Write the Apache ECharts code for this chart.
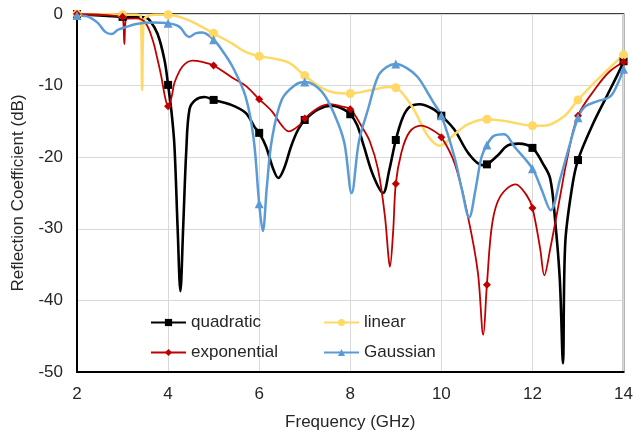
<!DOCTYPE html>
<html>
<head>
<meta charset="utf-8">
<script src="https://cdn.jsdelivr.net/npm/echarts@6/dist/echarts.min.js"></script>
<style>
  html, body { margin: 0; padding: 0; background: #fff; }
  #chart { width: 636px; height: 436px; }
</style>
</head>
<body>
<div id="chart"></div>
<script>
// frequency (GHz), reflection coefficient (dB)
const quadratic = [
  [2, 0], [2.5, -0.2], [3, -0.4], [3.3, -0.4], [3.5, -0.5], [3.6, -0.9], [3.77, -2.8], [3.92, -6.4],
  [4, -9.9], [4.08, -14], [4.14, -18.5], [4.21, -30], [4.27, -38.7], [4.33, -30], [4.4, -19],
  [4.47, -13.3], [4.6, -12], [4.8, -11.6], [5, -12], [5.35, -12.6], [5.7, -13.8], [5.9, -15.8],
  [6, -16.6], [6.15, -18.5], [6.3, -21.5], [6.42, -22.9], [6.55, -21.5], [6.7, -18.5], [6.85, -16.2],
  [7, -14.8], [7.3, -13.3], [7.6, -12.8], [7.85, -13.3], [8, -14], [8.15, -15.5], [8.3, -18.5],
  [8.5, -22.5], [8.72, -25], [8.85, -22], [9, -17.6], [9.15, -14.5], [9.3, -13], [9.52, -12.6],
  [9.8, -13.2], [10, -14.2], [10.28, -16.1], [10.6, -19.5], [10.9, -21.1], [11, -21], [11.23, -19.8],
  [11.45, -18.4], [11.7, -18.1], [12, -18.7], [12.22, -20.8], [12.39, -23], [12.5, -29], [12.6, -37],
  [12.67, -48.8], [12.72, -32], [12.87, -24.2], [13, -20.4], [13.34, -15.2], [13.63, -11.5],
  [13.92, -7.8], [14, -6.6]
];
const linear = [
  [2, 0], [2.5, 0], [3, -0.1], [3.3, -0.1], [3.4, -0.3], [3.43, -10.6], [3.46, -1.2], [3.52, -0.4],
  [3.7, -0.1], [4, -0.1], [4.3, -0.5], [4.6, -1.3], [5, -2.7], [5.4, -4.1], [5.7, -5.3], [6, -5.9],
  [6.3, -6.2], [6.65, -6.8], [7, -8.6], [7.37, -10.3], [7.67, -11], [8, -11.1], [8.47, -10.6],
  [8.83, -10.2], [9, -10.3], [9.2, -11.5], [9.41, -13.5], [9.7, -17], [9.97, -18.4], [10.29, -16.8],
  [10.58, -15.4], [11, -14.7], [11.45, -15], [12, -15.6], [12.25, -15.6], [12.69, -14.3], [13, -12],
  [13.42, -9.2], [14, -5.7]
];
const exponential = [
  [2, 0], [2.5, -0.1], [2.9, -0.3], [3, -0.4], [3.04, -4.2], [3.08, -0.7], [3.3, -0.6], [3.5, -1.2],
  [3.66, -3.6], [3.77, -6.4], [3.85, -8.7], [3.93, -11.5], [4, -12.9], [4.08, -11.5], [4.14, -9.6],
  [4.32, -7.3], [4.54, -6.5], [4.75, -6.7], [5, -7.2], [5.41, -8.9], [5.7, -10], [6, -11.9],
  [6.28, -13.6], [6.5, -15.6], [6.65, -16.4], [6.87, -15.6], [7, -14.6], [7.3, -13.1], [7.56, -12.6],
  [7.8, -12.9], [8, -13.3], [8.25, -15.7], [8.43, -17.8], [8.61, -21.7], [8.76, -28.2], [8.84, -34],
  [8.87, -35.3], [8.94, -30.5], [9, -23.7], [9.12, -19.4], [9.3, -16.5], [9.56, -15.6], [9.8, -16.2],
  [10, -17.2], [10.3, -21], [10.58, -28.2], [10.8, -36], [10.92, -44.8], [11, -37.8],
  [11.12, -29.1], [11.3, -25.4], [11.63, -23.8], [11.88, -25.4], [12, -27.1], [12.17, -32.8],
  [12.26, -36.5], [12.39, -32.8], [12.61, -25.4], [12.76, -20.3], [13, -14.2], [13.42, -10.1],
  [13.7, -8], [14, -6.7]
];
const gaussian = [
  [2, -0.2], [2.2, -0.3], [2.45, -1.2], [2.62, -2.5], [2.76, -2.8], [2.9, -2.2], [3.08, -1.8],
  [3.3, -1.4], [3.66, -1.2], [4, -1.3], [4.25, -1.8], [4.4, -3], [4.47, -3.2], [4.6, -2.7],
  [4.75, -2.6], [5, -3.6], [5.2, -5.2], [5.41, -7.3], [5.7, -11.5], [5.88, -17.5], [6, -26.5],
  [6.08, -30.3], [6.17, -24], [6.28, -17.5], [6.5, -11.9], [6.79, -9.9], [7, -9.5], [7.37, -10.8],
  [7.67, -14.3], [7.87, -18], [8.03, -25], [8.19, -17.8], [8.39, -13.3], [8.61, -8.7], [8.8, -7.4],
  [9, -7], [9.25, -7.6], [9.48, -8.8], [9.7, -11], [9.85, -12.6], [10, -14.2], [10.28, -19.8],
  [10.45, -24.5], [10.61, -28.4], [10.75, -24.5], [10.88, -20], [11, -18.3], [11.16, -17],
  [11.38, -16.8], [11.6, -18.5], [12, -21.6], [12.2, -24.5], [12.4, -27.4], [12.61, -23],
  [12.79, -18.9], [13, -14.5], [13.16, -12.9], [13.42, -12.2], [13.71, -11.5], [13.88, -9.6], [14, -7.7]
];

const xTicks = [2, 4, 6, 8, 10, 12, 14];
const yTicks = [0, -10, -20, -30, -40, -50];

const font = 'Liberation Sans, Arial, sans-serif';
const textColor = '#262626';

// markers only at whole GHz values
function withMarkers(points) {
  return points.map(p => Number.isInteger(p[0]) ? { value: p } : { value: p, symbol: 'none' });
}

function makeSeries(name, points, color, width, symbol, size) {
  return {
    name: name,
    type: 'line',
    smooth: 0.35,
    data: withMarkers(points),
    symbol: symbol,
    symbolSize: size,
    showAllSymbol: true,
    lineStyle: { color: color, width: width },
    itemStyle: { color: color },
    emphasis: { disabled: true },
    animation: false
  };
}

function legendAt(name, left, top) {
  return {
    data: [name],
    left: left,
    top: top,
    itemWidth: 35,
    itemHeight: 9,
    padding: 0,
    textStyle: { fontFamily: font, fontSize: 17, color: textColor }
  };
}

const chart = echarts.init(document.getElementById('chart'), null, { renderer: 'canvas' });
chart.setOption({
  backgroundColor: '#fff',
  animation: false,
  grid: {
    left: 77, right: 9, top: 14, bottom: 62,
    show: true, borderColor: '#000', borderWidth: 1.5
  },
  legend: [
    legendAt('quadratic', 150, 314),
    legendAt('linear', 323, 314),
    legendAt('exponential', 150, 344),
    legendAt('Gaussian', 323, 344)
  ],
  xAxis: {
    type: 'value',
    min: xTicks[0],
    max: xTicks[xTicks.length - 1],
    interval: 2,
    name: 'Frequency (GHz)',
    nameLocation: 'middle',
    nameGap: 42,
    nameTextStyle: { fontFamily: font, fontSize: 17, color: textColor },
    axisLine: { onZero: false, lineStyle: { color: '#000', width: 2 } },
    axisTick: { show: false },
    axisLabel: { fontFamily: font, fontSize: 17, color: textColor, margin: 14 },
    splitLine: { lineStyle: { color: '#d9d9d9', width: 1 } }
  },
  yAxis: {
    type: 'value',
    min: yTicks[yTicks.length - 1],
    max: yTicks[0],
    interval: 10,
    name: 'Reflection Coefficient (dB)',
    nameLocation: 'middle',
    nameGap: 50,
    nameTextStyle: { fontFamily: font, fontSize: 17, color: textColor },
    axisLine: { show: true, onZero: false, lineStyle: { color: '#000', width: 2 } },
    axisTick: { show: false },
    axisLabel: { fontFamily: font, fontSize: 17, color: textColor, margin: 14 },
    splitLine: { lineStyle: { color: '#d9d9d9', width: 1 } }
  },
  series: [
    makeSeries('quadratic', quadratic, '#000000', 2.6, 'rect', 8),
    makeSeries('linear', linear, '#FFD966', 2.5, 'circle', 9),
    makeSeries('exponential', exponential, '#C00000', 1.8, 'diamond', 8),
    makeSeries('Gaussian', gaussian, '#5B9BD5', 2.5, 'triangle', 9)
  ]
});
</script>
</body>
</html>
